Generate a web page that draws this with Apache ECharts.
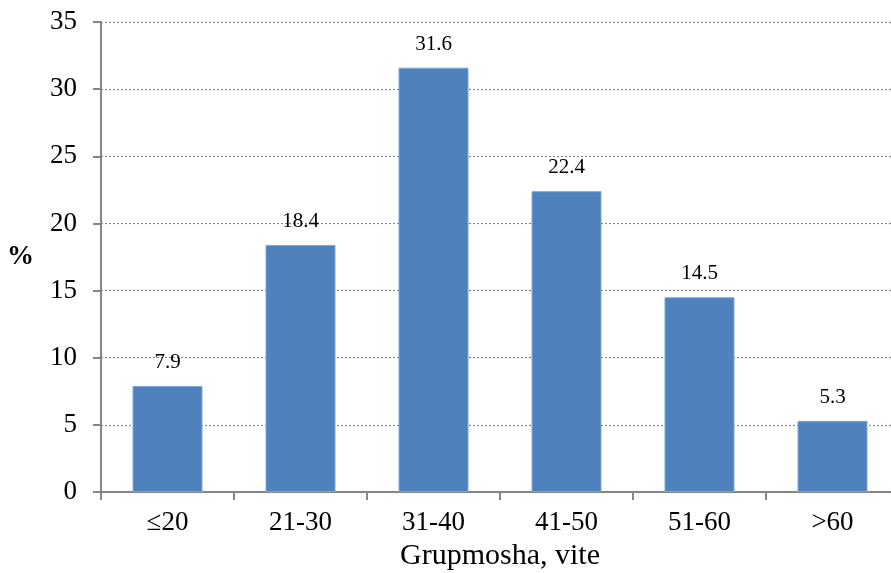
<!DOCTYPE html>
<html>
<head>
<meta charset="utf-8">
<script src="https://cdn.jsdelivr.net/npm/echarts@6/dist/echarts.min.js"></script>
<style>
  html, body { margin: 0; padding: 0; background: #fff; }
  #chart { width: 891px; height: 573px; }
</style>
</head>
<body>
<div id="chart"></div>
<script>
// Age groups and share of respondents (%)
const categories = ['≤20', '21-30', '31-40', '41-50', '51-60', '>60'];
const values = [7.9, 18.4, 31.6, 22.4, 14.5, 5.3];
const yTicks = { min: 0, max: 35, interval: 5 };

const FONT = '"Liberation Serif", "DejaVu Serif", serif';
const chart = echarts.init(document.getElementById('chart'), null, { renderer: 'canvas' });

chart.setOption({
  animation: false,
  backgroundColor: '#ffffff',
  grid: { left: 101, top: 22, width: 798, height: 470, containLabel: false, outerBoundsMode: 'none' },
  xAxis: {
    type: 'category',
    data: categories,
    name: 'Grupmosha, vite',
    nameLocation: 'middle',
    nameGap: 46,
    nameTextStyle: { fontFamily: FONT, fontSize: 30, color: '#000' },
    axisLine: { lineStyle: { color: '#868686', width: 2 } },
    axisTick: { show: true, length: 8, lineStyle: { color: '#868686', width: 2 } },
    axisLabel: { fontFamily: FONT, fontSize: 27, color: '#000', margin: 17 },
    splitLine: { show: false }
  },
  yAxis: {
    type: 'value',
    min: yTicks.min,
    max: yTicks.max,
    interval: yTicks.interval,
    name: '%',
    nameLocation: 'middle',
    nameGap: 67,
    nameRotate: 0,
    nameTextStyle: { fontFamily: FONT, fontSize: 27, fontWeight: 'bold', color: '#000' },
    axisLine: { show: true, lineStyle: { color: '#868686', width: 2 } },
    axisTick: { show: true, inside: false, length: 8, lineStyle: { color: '#868686', width: 2 } },
    axisLabel: { fontFamily: FONT, fontSize: 27, color: '#000', margin: 24 },
    splitLine: { show: true, lineStyle: { color: '#868686', type: [2, 2], width: 1.2 } }
  },
  series: [{
    type: 'bar',
    data: values,
    barWidth: 70,
    itemStyle: { color: '#4F81BD', borderColor: '#7EA6D6', borderWidth: 1 },
    label: {
      show: true,
      position: 'top',
      distance: 13,
      fontFamily: FONT,
      fontSize: 21,
      color: '#000',
      formatter: p => p.value.toFixed(1)
    }
  }]
});
</script>
</body>
</html>
